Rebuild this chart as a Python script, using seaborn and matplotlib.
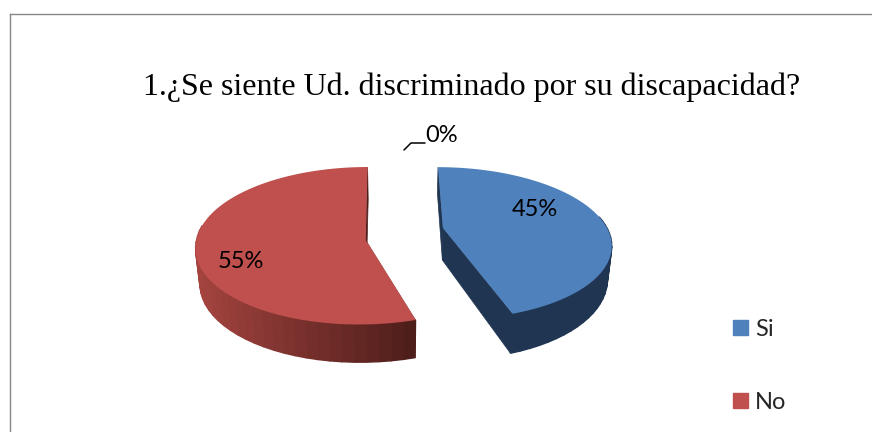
import numpy as np
import matplotlib
matplotlib.use('Agg')
import matplotlib.pyplot as plt
from matplotlib.patches import Patch
import seaborn as sns

categories = ['Si', 'No', '']
shares = [45, 55, 0]
title = '1.¿Se siente Ud. discriminado por su discapacidad?'

TOP = {'Si': '#4F81BD', 'No': '#C0504D'}
SIDE_L = {'Si': '#1F3552', 'No': '#A5443F'}
SIDE_R = {'Si': '#1F3552', 'No': '#4E1E1B'}
CUT = {'Si': '#1F3552', 'No': '#96403C'}
# tilted-disc geometry per slice, in pixels
GEO = {'Si': dict(vx=413, ex=30, rx=164, by=73, k=0.2, ay=228, sh=0, depth=32),
       'No': dict(vx=395, ex=-29.4, rx=169, by=78.3, k=0.073, ay=240, sh=4.2, depth=35)}
LABELS = {'Si': (535, 210), 'No': (241, 262)}
LABEL_FONT = ['Lato', 'DejaVu Sans']

sns.set_style('white')
plt.rcParams['font.family'] = LABEL_FONT


def project(g, u, v, low=False):
    p = 1 / (1 + g['k'] * v)
    x = g['ex'] * p + g['rx'] * u * p + g['sh'] * np.minimum(v, 0)
    y = g['ay'] - g['by'] * v * p
    if low:
        return g['vx'] + x * 0.978, y + g['depth'] * p
    return g['vx'] + x, y


fig = plt.figure(figsize=(8.72, 4.32), dpi=100)
ax = fig.add_axes([10 / 872, 0, 862 / 872, 418 / 432])
ax.set_xlim(10, 872)
ax.set_ylim(432, 14)
ax.set_xticks([])
ax.set_yticks([])
for side in ['right', 'bottom']:
    ax.spines[side].set_visible(False)
for side in ['left', 'top']:
    ax.spines[side].set_color('#868686')
    ax.spines[side].set_linewidth(1.0)

start = 90.0
total = sum(shares)
for cat, val in zip(categories, shares):
    if val == 0:
        continue
    sweep = 360.0 * val / total
    th = np.radians(np.linspace(start, start - sweep, 201))
    start -= sweep
    g = GEO[cat]
    u, v = np.cos(th), np.sin(th)
    tx, ty = project(g, u, v)
    bx, by = project(g, u, v, low=True)
    ox, oy = project(g, 0.0, 0.0)
    olx, oly = project(g, 0.0, 0.0, low=True)

    # radial cut faces
    ax.fill([ox, tx[0], bx[0], olx], [oy, ty[0], by[0], oly], color=CUT[cat], lw=0.5)
    ax.fill([ox, tx[-1], bx[-1], olx], [oy, ty[-1], by[-1], oly], color=SIDE_R[cat], lw=0.5)

    # outer rim, shaded from left to right, front part only
    c0 = np.array(matplotlib.colors.to_rgb(SIDE_L[cat]))
    c1 = np.array(matplotlib.colors.to_rgb(SIDE_R[cat]))
    span = max(tx.max() - tx.min(), 1)
    for i in range(0, len(th) - 4, 4):
        if v[i] > 0.15 and v[i + 4] > 0.15:
            continue
        f = (tx[i] - tx.min()) / span
        col = c0 + (c1 - c0) * f
        ax.fill([tx[i], tx[i + 4], bx[i + 4], bx[i]],
                [ty[i], ty[i + 4], by[i + 4], by[i]],
                color=col, lw=1.0)

    ax.fill(np.r_[ox, tx], np.r_[oy, ty], color=TOP[cat], lw=0)
    lx, ly = LABELS[cat]
    ax.text(lx, ly, f'{val}%', fontsize=17, color='black',
            ha='center', va='center')

# the empty third slice only shows its label
ax.plot([404, 411, 425], [150, 143, 143], color='black', lw=1.1)
ax.text(442, 136, f'{shares[2]}%', fontsize=17, color='black',
        ha='center', va='center')

ax.text(471.5, 87, title, fontsize=23, family='Liberation Serif',
        ha='center', va='center', color='black')

handles = [Patch(color=TOP[c]) for c in categories[:2]]
ax.legend(handles, categories[:2], loc='upper left',
          bbox_to_anchor=(733, 319), bbox_transform=ax.transData,
          frameon=False, fontsize=17,
          handlelength=0.63, handleheight=0.63, handletextpad=0.3,
          labelspacing=2.2, borderpad=0, borderaxespad=0)

plt.savefig('out.png', dpi=100)
